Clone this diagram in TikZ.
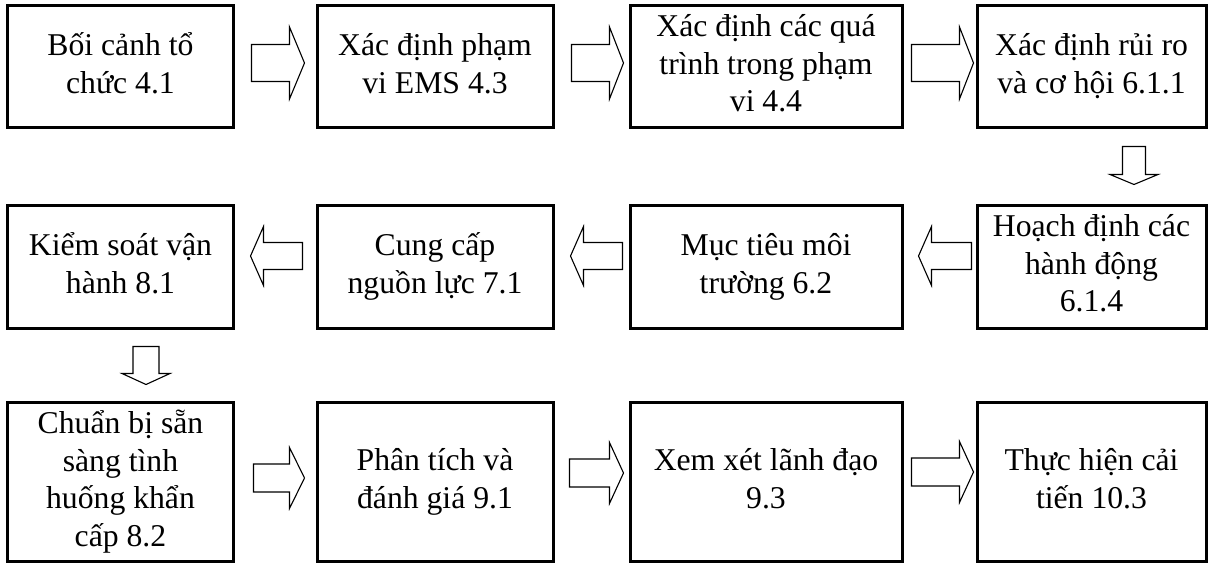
\documentclass[tikz,border=0pt]{standalone}
\usepackage{fontspec}
\setmainfont{Liberation Serif}
\usetikzlibrary{calc}

% fixed line pitch in the boxes
\lineskiplimit=-100bp
\newcommand{\tstrut}{\rule[-7.5bp]{0pt}{45.5bp}}
\newcommand{\nl}{\\\tstrut}

\tikzset{
  pics/blockarrow/.style n args={4}{code={
    % #1 shaft length, #2 head length, #3 half shaft, #4 half head
    \draw[arrowline] (0,-#3) -- (#1,-#3) -- (#1,-#4) -- ++(#2,#4)
      -- (#1,#4) -- (#1,#3) -- (0,#3) -- cycle;
  }}
}

\begin{document}
\begin{tikzpicture}[x=1bp, y=-1bp,
    box/.style={draw, line width=3bp, inner sep=0pt, align=center,
      font=\fontsize{31.7bp}{37.5bp}\selectfont,
      execute at begin node=\tstrut},
    arrowline/.style={draw, line width=1.1bp, fill=white, line join=miter}]
  \useasboundingbox (0,0) rectangle (1213,563);

  % first row, left to right
  \node[box, minimum width=225bp, minimum height=122bp] (b1) at (120.5,67) {Bối cảnh tổ\nl chức 4.1};
  \node[box, minimum width=236bp, minimum height=122bp] (b2) at (435,67) {Xác định phạm\nl vi EMS 4.3};
  \node[box, minimum width=272bp, minimum height=122bp] (b3) at (766,67) {Xác định các quá\nl trình trong phạm\nl vi 4.4};
  \node[box, minimum width=229bp, minimum height=122bp] (b4) at (1091.5,67) {Xác định rủi ro\nl và cơ hội 6.1.1};

  % second row, right to left
  \node[box, minimum width=229bp, minimum height=122bp] (b5) at (1091.5,267) {Hoạch định các\nl hành động\nl 6.1.4};
  \node[box, minimum width=272bp, minimum height=122bp] (b6) at (766,267) {Mục tiêu môi\nl trường 6.2};
  \node[box, minimum width=236bp, minimum height=122bp] (b7) at (435,267) {Cung cấp\nl nguồn lực 7.1};
  \node[box, minimum width=225bp, minimum height=122bp] (b8) at (120.5,267) {Kiểm soát vận\nl hành 8.1};

  % third row
  \node[box, minimum width=225bp, minimum height=158bp] (b9) at (120.5,482) {Chuẩn bị sẵn\nl sàng tình\nl huống khẩn\nl cấp 8.2};
  \node[box, minimum width=236bp, minimum height=158bp] (b10) at (435,482) {Phân tích và\nl đánh giá 9.1};
  \node[box, minimum width=272bp, minimum height=158bp] (b11) at (766,482) {Xem xét lãnh đạo\nl 9.3};
  \node[box, minimum width=229bp, minimum height=158bp] (b12) at (1091.5,482) {Thực hiện cải\nl tiến 10.3};

  % block arrows between the steps
  \pic at ($(b1.east)+(17,-4)$) {blockarrow={38}{15}{18.5}{36}};
  \pic at ($(b2.east)+(17,-4)$) {blockarrow={38}{14}{18.5}{36}};
  \pic at ($(b3.east)+(8,-4)$) {blockarrow={48}{14}{18.5}{36}};
  \pic[rotate=-90] at ($(b4.south)+(42.5,17)$) {blockarrow={28}{10}{11.5}{24}};
  \pic[rotate=180] at ($(b5.west)+(-4,-11)$) {blockarrow={40}{13}{13.5}{29.5}};
  \pic[rotate=180] at ($(b6.west)+(-6,-11)$) {blockarrow={39}{13}{13.5}{29.5}};
  \pic[rotate=180] at ($(b7.west)+(-13,-11)$) {blockarrow={39}{13}{13.5}{29.5}};
  \pic[rotate=-90] at ($(b8.south)+(25.5,17)$) {blockarrow={27}{11}{13}{24}};
  \pic at ($(b9.east)+(19,-4)$) {blockarrow={36}{15}{14}{30.5}};
  \pic at ($(b10.east)+(15,-9)$) {blockarrow={40}{14}{14}{30.5}};
  \pic at ($(b11.east)+(8,-10)$) {blockarrow={48}{14}{14}{30.5}};
\end{tikzpicture}
\end{document}
